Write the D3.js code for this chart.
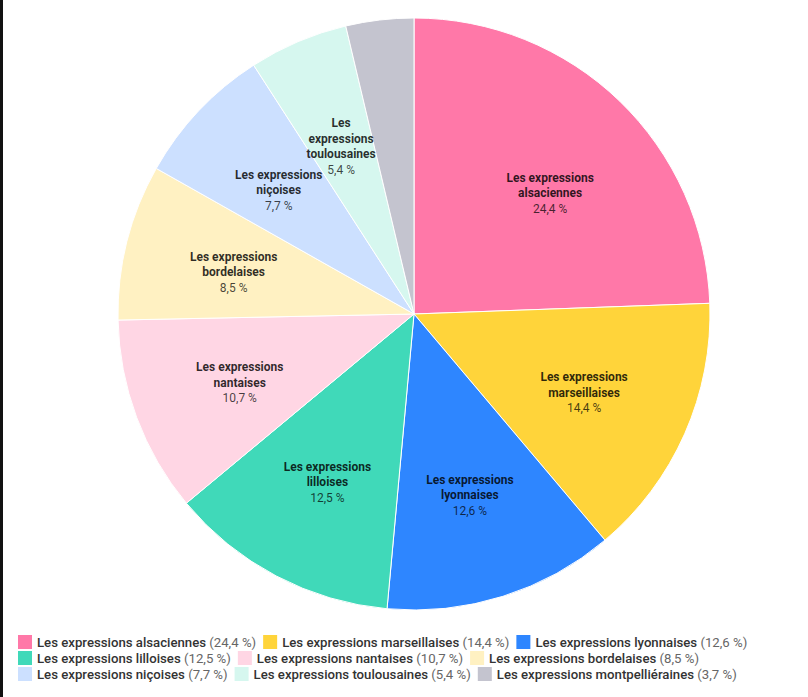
<!DOCTYPE html>
<html><head><meta charset="utf-8">
<script src="https://cdn.jsdelivr.net/npm/d3@7"></script>
<style>body{margin:0;background:#fff;}svg{display:block;font-family:Roboto,"Noto Sans",sans-serif;}</style>
</head><body>
<svg id="chart" width="808" height="697"></svg>
<script>
const categories = ["Les expressions alsaciennes","Les expressions marseillaises","Les expressions lyonnaises","Les expressions lilloises","Les expressions nantaises","Les expressions bordelaises","Les expressions niçoises","Les expressions toulousaines","Les expressions montpelliéraines"];
const values = [24.4,14.4,12.6,12.5,10.7,8.5,7.7,5.4,3.7];
const valueLabels = ["24,4 %","14,4 %","12,6 %","12,5 %","10,7 %","8,5 %","7,7 %","5,4 %","3,7 %"];
const colors = ["#FF78A8","#FFD43A","#2E86FF","#40D9B9","#FFD6E4","#FFF1C2","#CCE0FF","#D6F7EF","#C4C4CF"];

const svg = d3.select("#chart");
svg.append("rect").attr("x",0).attr("y",0).attr("width",3).attr("height",697).attr("fill","#111");

const cx = 414, cy = 314, R = 296, labelR = 186;
const data = categories.map((c,i)=>({name:c,value:values[i],label:valueLabels[i],color:colors[i]}));
const pie = d3.pie().value(d=>d.value).sort(null);
const arcs = pie(data);
const arc = d3.arc().innerRadius(0).outerRadius(R);
const labelArc = d3.arc().innerRadius(labelR).outerRadius(labelR);

const g = svg.append("g").attr("transform",`translate(${cx},${cy})`);
g.selectAll("path").data(arcs).join("path")
  .attr("d",arc).attr("fill",d=>d.data.color)
  .attr("stroke","#fff").attr("stroke-width",1);

function labelPos(d){
  const [x,y] = labelArc.centroid(d);
  // largest slice label sits a bit further round, as in the original
  if (d.index === 0) return [x+7, y+13];
  return [x, y+3.5];
}
const lg = g.selectAll("g.lbl").data(arcs.filter(a=>a.data.value>=5)).join("g").attr("class","lbl")
  .attr("transform",d=>`translate(${labelPos(d)})`);
lg.each(function(d){
  const words = d.data.name.split(" ");
  let lines = d.data.value < 6 ? words.slice() : [words.slice(0,2).join(" "), words.slice(2).join(" ")];
  const all = lines.map(t=>({t,b:true})).concat([{t:d.data.label,b:false}]);
  const lh = 15.5;
  const y0 = -(all.length-1)*lh/2;
  const t = d3.select(this).append("text").attr("text-anchor","middle").attr("font-size",12);
  all.forEach((l,i)=>{
    t.append("tspan").attr("x",0).attr("y",y0+i*lh).attr("dy","0.35em")
      .attr("font-weight",l.b?"bold":"normal")
      .attr("fill",l.b?"rgba(0,0,0,0.82)":"rgba(0,0,0,0.72)").text(l.t);
  });
});

// legend
const legend = svg.append("g");
const rows = [[0,1,2],[3,4,5],[6,7,8]];
const rowY = [642,658,674];
rows.forEach((r,ri)=>{
  let x = 18;
  r.forEach(i=>{
    const item = legend.append("g").attr("transform",`translate(${x},${rowY[ri]})`);
    item.append("rect").attr("x",0).attr("y",-7).attr("width",14).attr("height",14).attr("fill",colors[i]);
    const tx = item.append("text").attr("x",19).attr("y",0).attr("dy","0.35em").attr("font-size",13.2);
    tx.append("tspan").attr("fill","#333").attr("font-weight",500).text(categories[i]);
    tx.append("tspan").attr("fill","#666").text(" ("+valueLabels[i]+")");
    const w = tx.node().getComputedTextLength();
    x += 19 + w + 7;
  });
});
</script>
</body></html>
